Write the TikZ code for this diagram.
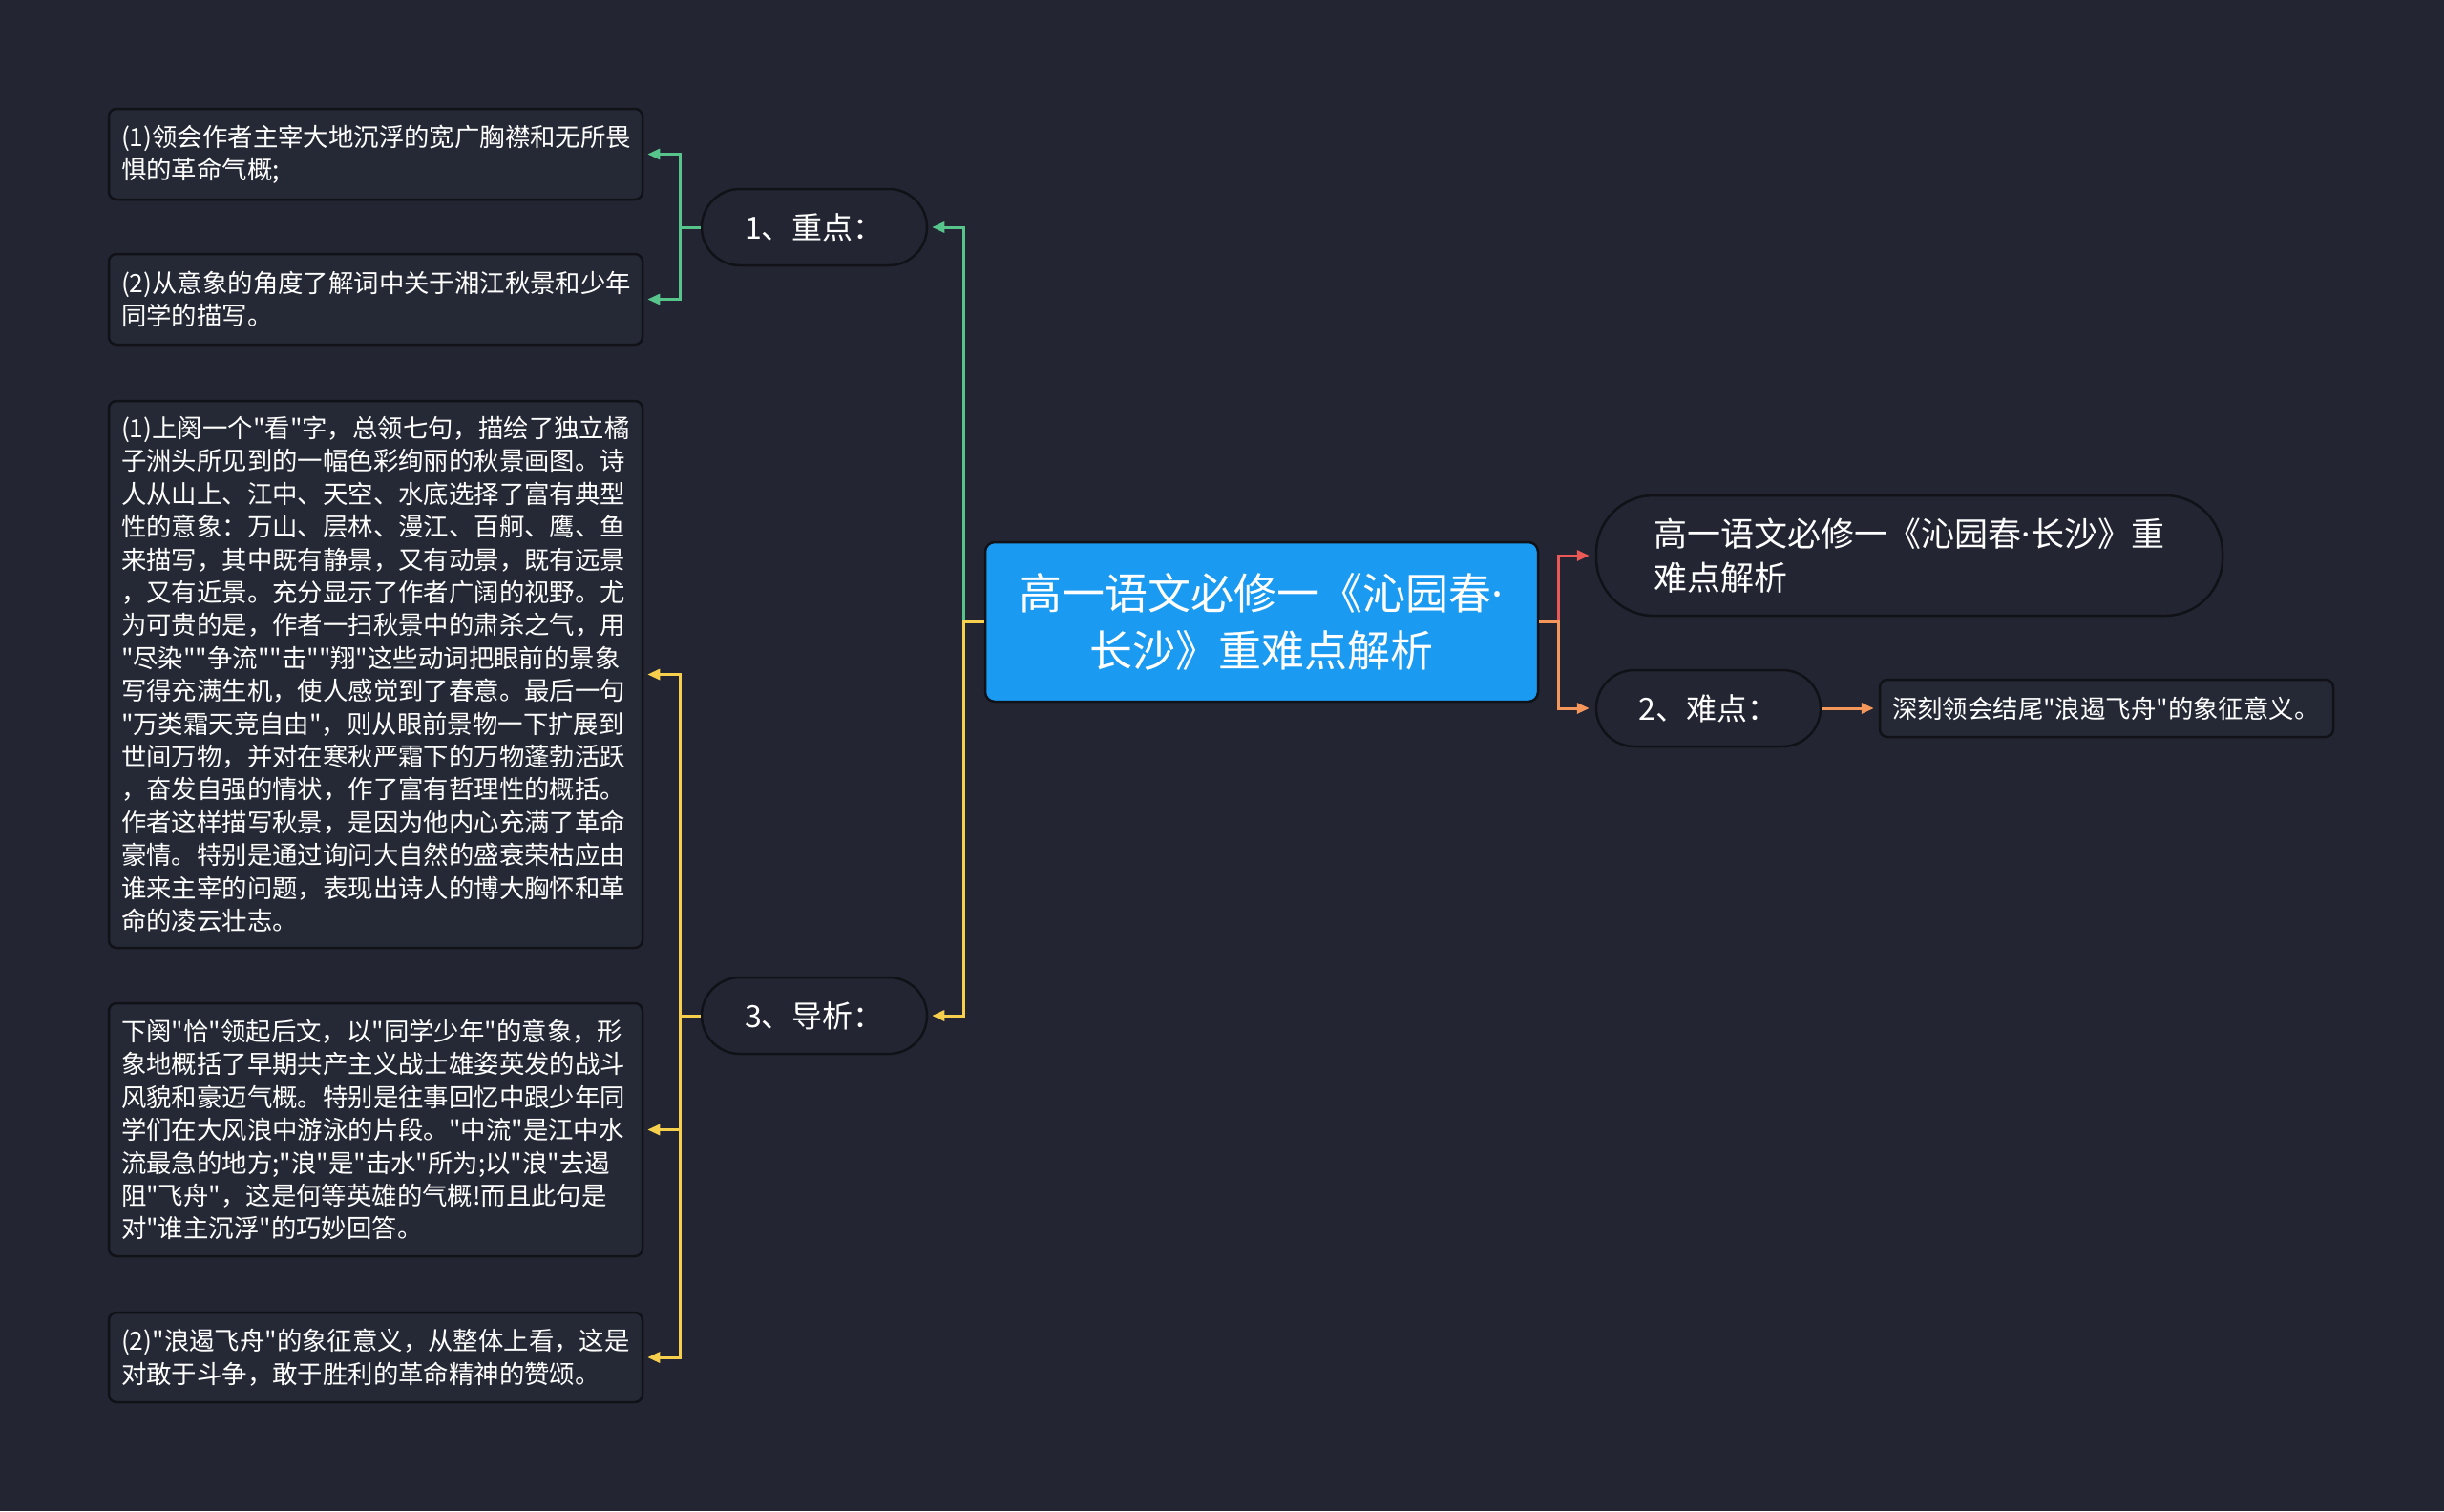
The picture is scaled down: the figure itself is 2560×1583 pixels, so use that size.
\documentclass[tikz,border=0pt]{standalone}
\usepackage{fontspec}
\setmainfont{Noto Sans CJK SC}[Ligatures=TeXOff]
\newfontfamily\latinfont{Noto Sans}
\usepackage{xcolor}
\usetikzlibrary{arrows.meta, positioning, calc}

\definecolor{bgdark}{RGB}{35,38,50}
\definecolor{boxfill}{RGB}{37,41,53}
\definecolor{edgedark}{RGB}{16,18,24}
\definecolor{brgreen}{RGB}{86,196,139}
\definecolor{bryellow}{RGB}{246,208,76}
\definecolor{brred}{RGB}{236,88,86}
\definecolor{brorange}{RGB}{245,150,90}
\definecolor{rootblue}{RGB}{26,154,240}

\newcommand{\mdot}{{\latinfont ·}}

\begin{document}
\begin{tikzpicture}[
    x=1pt, y=-1pt,
    leaf/.style={draw=edgedark, line width=2.5pt, fill=boxfill, rounded corners=8pt, text=white,
        align=left, text width=533pt, inner xsep=13pt, font=\fontsize{26.4pt}{34.4pt}\selectfont},
    topic/.style={draw=edgedark, line width=2.5pt, fill=bgdark, rounded corners=40pt, text=white,
        minimum width=236pt, minimum height=80pt, font=\fontsize{32pt}{36pt}\selectfont},
    link/.style={line width=3pt, -{Triangle[length=13pt,width=11pt]}}
]
    \fill[bgdark] (0,0) rectangle (2560,1583);

    % root and first level
    \node[draw=edgedark, line width=2.5pt, fill=rootblue, rounded corners=10pt, text=white, align=center,
        minimum width=579pt, minimum height=167pt, font=\fontsize{45pt}{60pt}\selectfont]
        (title) at (1321.5,651.5) {高一语文必修一《沁园春\mdot\\长沙》重难点解析};
    \node[topic] (key) at (853,238) {1、重点：};
    \node[topic] (guide) at (853,1064) {3、导析：};
    \node[topic, minimum width=235pt] (hard) at (1789.5,742) {2、难点：};
    \node[draw=edgedark, line width=2.5pt, fill=bgdark, rounded corners=60pt, text=white, align=left,
        minimum width=656pt, minimum height=126pt, font=\fontsize{35pt}{46pt}\selectfont]
        (sub) at (2000,582) {高一语文必修一《沁园春\mdot 长沙》重\\难点解析};

    % leaves
    \node[leaf, minimum height=95pt] (k1) at (393.5,161.5) {(1)领会作者主宰大地沉浮的宽广胸襟和无所畏\\惧的革命气概;};
    \node[leaf, minimum height=95pt] (k2) at (393.5,313.5) {(2)从意象的角度了解词中关于湘江秋景和少年\\同学的描写。};
    \node[leaf, minimum height=573pt] (g1) at (393.5,706.5) {(1)上阕一个"看"字，总领七句，描绘了独立橘\\子洲头所见到的一幅色彩绚丽的秋景画图。诗\\人从山上、江中、天空、水底选择了富有典型\\性的意象：万山、层林、漫江、百舸、鹰、鱼\\来描写，其中既有静景，又有动景，既有远景\\，又有近景。充分显示了作者广阔的视野。尤\\为可贵的是，作者一扫秋景中的肃杀之气，用\\"尽染""争流""击""翔"这些动词把眼前的景象\\写得充满生机，使人感觉到了春意。最后一句\\"万类霜天竞自由"，则从眼前景物一下扩展到\\世间万物，并对在寒秋严霜下的万物蓬勃活跃\\，奋发自强的情状，作了富有哲理性的概括。\\作者这样描写秋景，是因为他内心充满了革命\\豪情。特别是通过询问大自然的盛衰荣枯应由\\谁来主宰的问题，表现出诗人的博大胸怀和革\\命的凌云壮志。};
    \node[leaf, minimum height=265pt] (g2) at (393.5,1183.5) {下阕"恰"领起后文，以"同学少年"的意象，形\\象地概括了早期共产主义战士雄姿英发的战斗\\风貌和豪迈气概。特别是往事回忆中跟少年同\\学们在大风浪中游泳的片段。"中流"是江中水\\流最急的地方;"浪"是"击水"所为;以"浪"去遏\\阻"飞舟"，这是何等英雄的气概!而且此句是\\对"谁主沉浮"的巧妙回答。};
    \node[leaf, minimum height=94pt] (g3) at (393.5,1422) {(2)"浪遏飞舟"的象征意义，从整体上看，这是\\对敢于斗争，敢于胜利的革命精神的赞颂。};
    \node[leaf, text width=449pt, minimum height=60pt] (h1) at (2206.5,742) {深刻领会结尾"浪遏飞舟"的象征意义。};

    % connectors
    \draw[link, brgreen, shorten >=4pt] (title.west) -- ++(-21,0) |- (key.east);
    \draw[link, bryellow, shorten >=4pt] (title.west) -- ++(-21,0) |- (guide.east);
    \draw[link, brgreen, shorten >=4pt] (key.west) -- ++(-21.5,0) |- (k1.east);
    \draw[link, brgreen, shorten >=4pt] (key.west) -- ++(-21.5,0) |- (k2.east);
    \foreach \g in {g1,g2,g3}
        \draw[link, bryellow, shorten >=4pt] (guide.west) -- ++(-21.5,0) |- (\g.east);
    \draw[link, brred, shorten >=6pt] (title.east) -- ++(20,0) |- (sub.west);
    \draw[link, brorange, shorten >=6pt] (title.east) -- ++(20,0) |- (hard.west);
    \draw[link, brorange, shorten >=5pt] (hard.east) -- (h1.west);
\end{tikzpicture}
\end{document}
